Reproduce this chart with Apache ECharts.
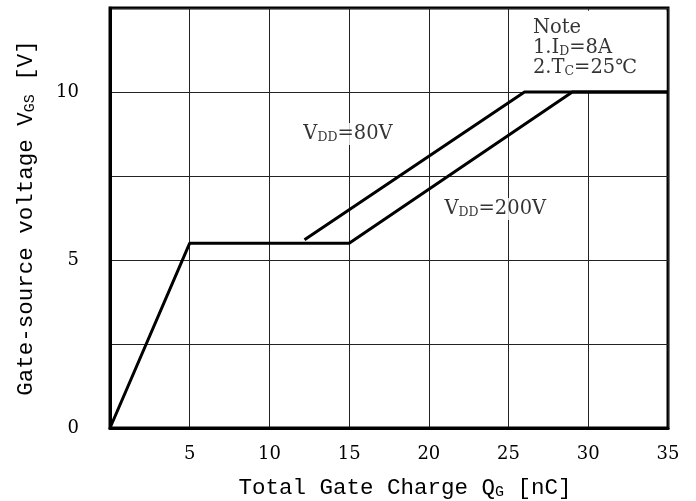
<!DOCTYPE html>
<html>
<head>
<meta charset="utf-8">
<script src="https://cdn.jsdelivr.net/npm/echarts@6/dist/echarts.min.js"></script>
<style>html,body{margin:0;padding:0;background:#fff}#c{width:696px;height:501px}</style>
</head>
<body>
<div id="c"></div>
<script>
const xTicks = [0, 5, 10, 15, 20, 25, 30, 35];
const yTickLabels = [0, 5, 10];
const vdd200 = [[0, 0], [5, 5.5], [15, 5.5], [29, 10], [35, 10]];
const vdd80 = [[12.2, 5.6], [26, 10], [35, 10]];
const seriesNames = ['VDD=200V', 'VDD=80V'];

const MONO = '"Liberation Mono", "DejaVu Sans Mono", monospace';
const SERIF = '"DejaVu Serif", "Liberation Serif", serif';
const chart = echarts.init(document.getElementById('c'), null, {renderer: 'canvas'});
const titleRich = {
  n: {fontFamily: MONO, fontSize: 22.5, color: '#000', verticalAlign: 'bottom', lineHeight: 25},
  s: {fontFamily: MONO, fontSize: 15, color: '#000', verticalAlign: 'bottom', lineHeight: 23}
};
const annRich = {
  n: {fontFamily: SERIF, fontSize: 19.5, color: '#000', verticalAlign: 'bottom', lineHeight: 20},
  s: {fontFamily: SERIF, fontSize: 12.5, color: '#000', verticalAlign: 'bottom', lineHeight: 18.5}
};
chart.setOption({
  animation: false,
  backgroundColor: '#fff',
  grid: {left: 110, right: 28, top: 8, bottom: 73, outerBoundsMode: 'none', containLabel: false, show: true, borderColor: '#000', borderWidth: 3, backgroundColor: 'transparent'},
  xAxis: {
    type: 'value', min: 0, max: 35, interval: 5,
    axisLine: {show: true, lineStyle: {color: '#000', width: 3}},
    axisTick: {show: false},
    splitLine: {show: true, lineStyle: {color: '#222', width: 1}},
    axisLabel: {
      margin: 17, color: '#000', fontFamily: SERIF, fontSize: 18,
      formatter: v => (xTicks.includes(v) && v !== 0) ? String(v) : ''
    },
    name: '{n|Total Gate Charge Q}{s|G}{n| [nC]}',
    nameLocation: 'middle', nameGap: 47,
    nameTextStyle: {rich: titleRich, padding: [0, 0, 0, 32]}
  },
  yAxis: {
    type: 'value', min: 0, max: 12.5, interval: 2.5,
    axisLine: {show: true, lineStyle: {color: '#000', width: 3}},
    axisTick: {show: false},
    splitLine: {show: true, lineStyle: {color: '#222', width: 1}},
    axisLabel: {
      margin: 31, color: '#000', fontFamily: SERIF, fontSize: 18,
      formatter: v => yTickLabels.includes(v) ? String(v) : ''
    },
    name: '{n|Gate-source voltage V}{s|GS}{n| [V]}',
    nameLocation: 'middle', nameGap: 72,
    nameTextStyle: {rich: titleRich}
  },
  series: [
    {
      name: seriesNames[0], type: 'line', data: vdd200, symbol: 'none',
      lineStyle: {color: '#000', width: 3}, z: 5,
      markArea: {
        silent: true,
        itemStyle: {color: '#fff', opacity: 1},
        data: [[{coord: [25.06, 10.04]}, {coord: [34.9, 12.42]}]]
      }
    },
    {
      name: seriesNames[1], type: 'line', data: vdd80, symbol: 'none',
      lineStyle: {color: '#000', width: 3}, z: 5
    },
    {
      type: 'scatter', symbolSize: 0, z: 10, silent: true,
      data: [
        {value: [12.0, 8.75], label: {formatter: '{n|V}{s|DD}{n|=80V}'}},
        {value: [20.85, 6.52], label: {formatter: '{n|V}{s|DD}{n|=200V}'}},
        {value: [26.4, 11.3], label: {backgroundColor: 'transparent', formatter: '{n|Note}\n{n|1.I}{s|D}{n|=8A}\n{n|2.T}{s|C}{n|=25℃}'}}
      ],
      label: {
        show: true, position: 'right', distance: 0, color: '#000',
        backgroundColor: '#fff', padding: [1, 2, 1, 2], rich: annRich
      }
    }
  ]
});
</script>
</body>
</html>
